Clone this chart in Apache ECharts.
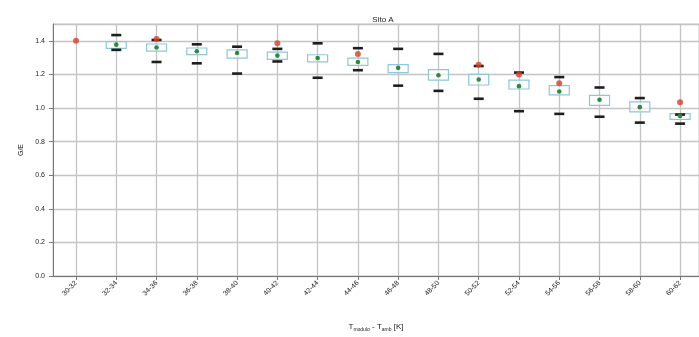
<!DOCTYPE html>
<html><head><meta charset="utf-8">
<script src="https://cdn.jsdelivr.net/npm/echarts@6/dist/echarts.min.js"></script>
<style>html,body{margin:0;padding:0;background:#fff}#c{width:699px;height:337px}</style>
</head><body><div id="c"></div>
<script>
const categories = ['30-32','32-34','34-36','36-38','38-40','40-42','42-44','44-46','46-48','48-50','50-52','52-54','54-56','56-58','58-60','60-62'];
const capHigh = [null,1.434,1.405,1.379,1.365,1.352,1.385,1.356,1.352,1.322,1.25,1.211,1.184,1.122,1.059,0.961];
const boxHigh = [null,1.395,1.381,1.357,1.346,1.332,1.317,1.297,1.258,1.229,1.2,1.166,1.133,1.075,1.036,0.967];
const median  = [null,1.377,1.36,1.338,1.327,1.312,1.297,1.274,1.239,1.195,1.17,1.13,1.098,1.049,1.005,0.952];
const boxLow  = [null,1.355,1.338,1.318,1.297,1.289,1.274,1.254,1.211,1.166,1.137,1.113,1.078,1.016,0.977,0.932];
const capLow  = [null,1.346,1.274,1.266,1.205,1.277,1.18,1.225,1.133,1.102,1.055,0.981,0.965,0.948,0.913,0.907];
const outlierIdx = [0,2,5,7,10,11,12,15];
const outlierVal = [1.40,1.41,1.385,1.322,1.258,1.2,1.147,1.034];
const yTicks = [0,0.2,0.4,0.6,0.8,1.0,1.2,1.4];

const boxData = categories.map((c,i)=>[i,capLow[i],boxLow[i],median[i],boxHigh[i],capHigh[i]]).filter(d=>d[1]!==null);
const outData = outlierIdx.map((k,j)=>[k,outlierVal[j]]);

const chart = echarts.init(document.getElementById('c'));
chart.setOption({
  animation:false,
  title:{text:'Sito A',left:378,top:11,textAlign:'center',textStyle:{fontSize:8,fontWeight:'normal',color:'#222',fontFamily:'Liberation Sans'}},
  grid:{left:53,right:0,top:24,bottom:56,show:true,borderColor:'#c8c8c8',borderWidth:1},
  xAxis:{type:'value',min:-0.571,max:15.47,
    name:'T{s|modulo} - T{s|amb} [K]',nameLocation:'middle',nameGap:45,
    nameTextStyle:{fontSize:8,color:'#222',fontFamily:'Liberation Sans',rich:{s:{fontSize:5,verticalAlign:'bottom',padding:[6,0,0,0],color:'#222'}}},
    axisLine:{show:true,onZero:false,lineStyle:{color:'#777',width:1}},
    axisTick:{show:true,length:4,inside:false,customValues:categories.map((c,i)=>i),lineStyle:{color:'#777'}},
    axisLabel:{customValues:categories.map((c,i)=>i),formatter:v=>categories[Math.round(v)]||'',rotate:45,fontSize:7,color:'#222',margin:6,fontFamily:'Liberation Sans'},
    splitLine:{show:true,lineStyle:{color:'#c4c4c4',width:1.3}}
  },
  yAxis:{type:'value',min:0,max:1.5,interval:0.2,
    name:'G/E',nameLocation:'middle',nameGap:27,nameTextStyle:{fontSize:7,color:'#222',fontFamily:'Liberation Sans'},
    axisLine:{show:true,onZero:false,lineStyle:{color:'#777',width:1}},
    axisTick:{show:true,length:4,lineStyle:{color:'#777'}},
    axisLabel:{fontSize:7,color:'#222',margin:8,showMaxLabel:false,fontFamily:'Liberation Sans',
      formatter:v=>yTicks.some(t=>Math.abs(t-v)<1e-6)?v.toFixed(1):''},
    splitLine:{show:true,lineStyle:{color:'#c4c4c4',width:1.3}}
  },
  series:[
    {type:'custom',data:boxData,z:3,
      renderItem:function(params,api){
        const i=api.value(0);
        const pLo=api.coord([i,api.value(1)]);
        const bLo=api.coord([i,api.value(2)]);
        const med=api.coord([i,api.value(3)]);
        const bHi=api.coord([i,api.value(4)]);
        const pHi=api.coord([i,api.value(5)]);
        const bw=20, cw=10;
        return {type:'group',children:[
          {type:'rect',shape:{x:pLo[0]-bw/2,y:bHi[1],width:bw,height:bLo[1]-bHi[1]},
            style:{fill:'rgba(255,255,255,0.6)',stroke:'#8ec6dc',lineWidth:1.2}},
          {type:'line',shape:{x1:pHi[0]-cw/2,y1:pHi[1],x2:pHi[0]+cw/2,y2:pHi[1]},style:{stroke:'#1e1e1e',lineWidth:2.6}},
          {type:'line',shape:{x1:pLo[0]-cw/2,y1:pLo[1],x2:pLo[0]+cw/2,y2:pLo[1]},style:{stroke:'#1e1e1e',lineWidth:2.6}},
          {type:'circle',shape:{cx:med[0],cy:med[1],r:2.3},style:{fill:'#2f8a3c'}}
        ]};
      }
    },
    {type:'scatter',data:outData,symbol:'circle',symbolSize:6,z:4,itemStyle:{color:'#d6402b'}}
  ]
});
</script></body></html>
